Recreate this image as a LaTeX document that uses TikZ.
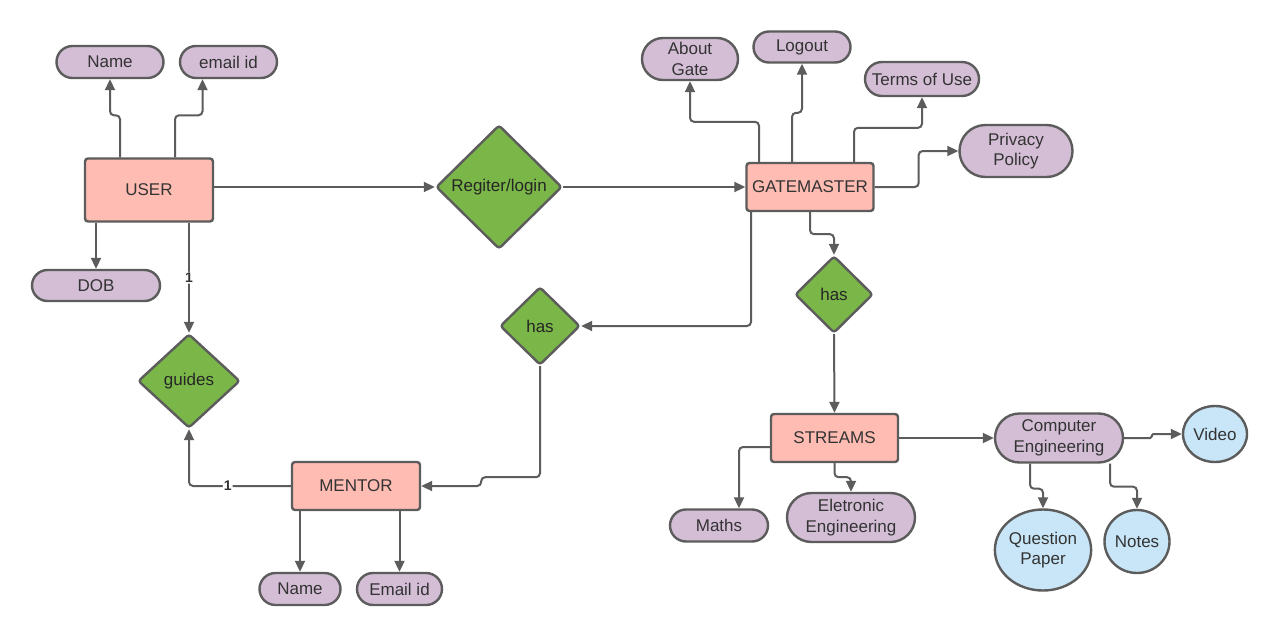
\documentclass[tikz,border=0pt]{standalone}
\usepackage{fontspec}
\setmainfont{Liberation Sans}
\usetikzlibrary{shapes.geometric,shapes.misc,arrows.meta}

\definecolor{edgegrey}{HTML}{5C5C5C}
\definecolor{entityfill}{HTML}{FFBCB3}
\definecolor{attrfill}{HTML}{D4BED6}
\definecolor{relfill}{HTML}{7AB648}
\definecolor{leaffill}{HTML}{C8E6F7}
\definecolor{inkgrey}{HTML}{333333}

\tikzset{
  base/.style={draw=edgegrey, line width=2.4pt, text=inkgrey, inner sep=0pt,
    font=\fontsize{17}{20.5}\selectfont, align=center},
  entity/.style={base, rectangle, rounded corners=3pt, fill=entityfill},
  attr/.style={base, rounded rectangle, fill=attrfill},
  rel/.style={base, diamond, rounded corners=3pt, fill=relfill, text=black!85},
  leaf/.style={base, ellipse, fill=leaffill},
  conn/.style={draw=edgegrey, line width=2pt, rounded corners=4pt,
    -{Triangle[length=11pt,width=10pt]}},
  card/.style={fill=white, text=black!80, inner sep=1pt,
    font=\fontsize{14}{16}\selectfont\bfseries}
}

\begin{document}
\begin{tikzpicture}[x=1pt, y=-1pt]
  \fill[white] (0,0) rectangle (1280,637);
  \useasboundingbox (0,0) rectangle (1280,637);

  % entities
  \node[entity, minimum width=128pt, minimum height=63pt] (user) at (149,190) {USER};
  \node[entity, minimum width=127pt, minimum height=48pt] (gate) at (810,187) {GATEMASTER};
  \node[entity, minimum width=128pt, minimum height=48pt] (mentor) at (356,486) {MENTOR};
  \node[entity, minimum width=127pt, minimum height=48pt] (streams) at (834.5,438) {STREAMS};

  % relationships
  \node[rel, minimum width=126pt, minimum height=124pt] (reg) at (499,187) {Regiter/login};
  \node[rel, minimum width=80pt, minimum height=78pt] (hasmentor) at (540,326) {has};
  \node[rel, minimum width=78pt, minimum height=77pt] (hasstream) at (834,294.5) {has};
  \node[rel, minimum width=102pt, minimum height=94pt] (guides) at (189,381) {guides};

  % user attributes
  \node[attr, minimum width=107pt, minimum height=32pt] (uname) at (110,62) {Name};
  \node[attr, minimum width=97pt, minimum height=32pt] (uemail) at (228.5,62) {email id};
  \node[attr, minimum width=128pt, minimum height=31pt] (udob) at (96,285.5) {DOB};

  % gatemaster attributes
  \node[attr, minimum width=96pt, minimum height=42pt] (about) at (690,59) {About\\Gate};
  \node[attr, minimum width=97pt, minimum height=31pt] (logout) at (802,47) {Logout};
  \node[attr, minimum width=114pt, minimum height=34pt] (terms) at (922,79) {Terms of Use};
  \node[attr, minimum width=113pt, minimum height=52pt] (privacy) at (1016,151) {Privacy\\Policy};

  % mentor attributes
  \node[attr, minimum width=81pt, minimum height=32pt] (mname) at (300,589) {Name};
  \node[attr, minimum width=85pt, minimum height=32pt] (memail) at (399.5,589) {Email id};

  % streams
  \node[attr, minimum width=98pt, minimum height=32pt] (maths) at (719,525.5) {Maths};
  \node[attr, minimum width=128pt, minimum height=49pt] (elec) at (851,517.5) {Eletronic\\Engineering};
  \node[attr, minimum width=128pt, minimum height=49pt] (comp) at (1059,438) {Computer\\Engineering};

  % computer engineering resources
  \node[leaf, minimum width=64pt, minimum height=56pt] (video) at (1215,434) {Video};
  \node[leaf, minimum width=94pt, minimum height=81pt] (qpaper) at (1043,550) {Question\\Paper};
  \node[leaf, minimum width=65pt, minimum height=63pt] (notes) at (1137,541.5) {Notes};

  % user connectors
  \draw[conn] ([xshift=-29pt]user.north) -- ++(0,-42) -| (uname.south);
  \draw[conn] ([xshift=26pt]user.north) -- ++(0,-42) -| ([xshift=-26pt]uemail.south);
  \draw[conn] (user.south -| udob.north) -- (udob.north);
  \draw[conn] (user.south -| guides.north) -- node[card] {1} (guides.north);
  \draw[conn] (user.east |- reg.west) -- (reg.west);
  \draw[conn] (reg.east) -- (gate.west);

  % gatemaster connectors
  \draw[conn] ([xshift=-51pt]gate.north) -- ++(0,-40) -| (about.south);
  \draw[conn] ([xshift=-18pt]gate.north) -- ++(0,-49) -| (logout.south);
  \draw[conn] ([xshift=44pt]gate.north) -- ++(0,-34) -| (terms.south);
  \draw[conn] (gate.east) -- ++(44,0) |- (privacy.west);
  \draw[conn] ([xshift=-59pt]gate.south) |- (hasmentor.east);
  \draw[conn] (gate.south) -- ++(0,22) -| (hasstream.north);

  % mentor connectors
  \draw[conn] (hasmentor.south) -- ++(0,111) -| ([xshift=60pt]mentor.east) -- (mentor.east);
  \draw[conn] (mentor.west) -| node[card, pos=0.31] {1} (guides.south);
  \draw[conn] (mentor.south -| mname.north) -- (mname.north);
  \draw[conn] (mentor.south -| memail.north) -- (memail.north);

  % streams connectors
  \draw[conn] (hasstream.south) -- (streams.north);
  \draw[conn] (streams.east) -- (comp.west);
  \draw[conn] ([yshift=-9pt]streams.west) -| ([xshift=20pt]maths.north);
  \draw[conn] (streams.south) -- ++(0,14) -| (elec.north);
  \draw[conn, rounded corners=1.5pt] (comp.east) -| ([xshift=-30pt]video.west) -- (video.west);
  \draw[conn] ([xshift=-29pt]comp.south) -- ++(0,25) -| (qpaper.north);
  \draw[conn] ([xshift=51pt]comp.south) -- ++(0,23) -| (notes.north);
\end{tikzpicture}
\end{document}
